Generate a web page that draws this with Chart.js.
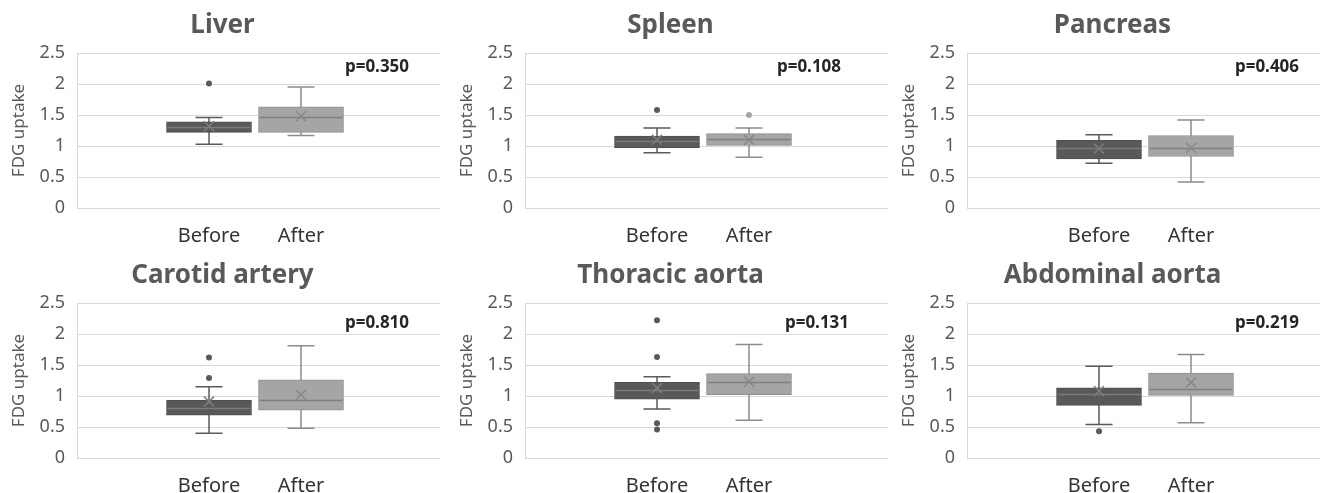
<!DOCTYPE html>
<html>
<head>
<meta charset="utf-8">
<script src="https://cdn.jsdelivr.net/npm/chart.js@4/dist/chart.umd.min.js"></script>
<style>
  html, body { margin: 0; padding: 0; background: #ffffff; }
  #wrap { position: relative; width: 1320px; height: 493px; overflow: hidden; background: #ffffff; }
  canvas { position: absolute; }
</style>
</head>
<body>
<div id="wrap"></div>
<script>
// ---------------- data ----------------
const panelTitles = ['Liver', 'Spleen', 'Pancreas', 'Carotid artery', 'Thoracic aorta', 'Abdominal aorta'];
const groups = ['Before', 'After'];
const pValues = ['p=0.350', 'p=0.108', 'p=0.406', 'p=0.810', 'p=0.131', 'p=0.219'];
const yTicks = [0, 0.5, 1, 1.5, 2, 2.5];
const yAxisTitle = 'FDG uptake';

const beforeMin    = [1.03, 0.89, 0.72, 0.40, 0.79, 0.54];
const beforeQ1     = [1.22, 0.97, 0.79, 0.69, 0.95, 0.85];
const beforeMedian = [1.31, 1.08, 0.97, 0.81, 1.09, 1.04];
const beforeQ3     = [1.39, 1.16, 1.09, 0.93, 1.22, 1.13];
const beforeMax    = [1.46, 1.29, 1.18, 1.15, 1.31, 1.48];
const beforeMean   = [1.32, 1.10, 0.96, 0.91, 1.13, 1.08];
const beforeOutliers = [[2.01], [1.58], [], [1.62, 1.29], [2.22, 1.63, 0.56, 0.46], [0.43]];

const afterMin    = [1.17, 0.82, 0.42, 0.48, 0.61, 0.57];
const afterQ1     = [1.22, 1.01, 0.83, 0.77, 1.02, 1.01];
const afterMedian = [1.47, 1.11, 0.96, 0.93, 1.23, 1.11];
const afterQ3     = [1.63, 1.20, 1.17, 1.26, 1.36, 1.37];
const afterMax    = [1.95, 1.29, 1.42, 1.81, 1.83, 1.67];
const afterMean   = [1.48, 1.10, 0.97, 1.02, 1.23, 1.22];
const afterOutliers = [[], [1.50], [], [], [], []];

// ---------------- layout / style ----------------
const FONT = "'Noto Sans', 'Open Sans', sans-serif";
const plotLefts = [77, 525, 967];
const rowTops = [0, 250];
const pLabelPos = [[300, 14], [284, 14], [300, 14], [300, 20], [292, 20], [300, 20]];
const boxFill = ['#595959', '#a5a5a5'];
const boxBorder = ['#4f4f4f', '#8f8f8f'];
const medianColor = ['#7a7a7a', '#7f7f7f'];
const meanColor = ['#7d7d7d', '#878787'];
const whiskerColor = ['#5a5a5a', '#8c8c8c'];
const outlierColor = ['#595959', '#a5a5a5'];

const boxPlugin = {
  id: 'boxWhisker',
  beforeDatasetsDraw(chart, args, opts) {
    const { ctx, scales: { x, y } } = chart;
    opts.stats.forEach((s, i) => {
      const cx = x.getPixelForValue(i);
      const yMin = y.getPixelForValue(s.min);
      const yMax = y.getPixelForValue(s.max);
      const half = opts.capWidth / 2;
      ctx.save();
      ctx.strokeStyle = whiskerColor[i];
      ctx.lineWidth = 1.5;
      ctx.beginPath();
      ctx.moveTo(cx, yMin); ctx.lineTo(cx, yMax);
      ctx.moveTo(cx - half, yMin); ctx.lineTo(cx + half, yMin);
      ctx.moveTo(cx - half, yMax); ctx.lineTo(cx + half, yMax);
      ctx.stroke();
      ctx.restore();
    });
  },
  afterDatasetDraw(chart, args, opts) {
    if (args.meta.type !== 'bar') return;
    const { ctx, scales: { x, y } } = chart;
    opts.stats.forEach((s, i) => {
      const el = args.meta.data[i];
      const w = el.width;
      const cx = x.getPixelForValue(i);
      const ym = Math.round(y.getPixelForValue(s.median)) + 0.5;
      ctx.save();
      ctx.strokeStyle = medianColor[i];
      ctx.lineWidth = 1.5;
      ctx.beginPath();
      ctx.moveTo(cx - w / 2 + 1, ym); ctx.lineTo(cx + w / 2 - 1, ym);
      ctx.stroke();
      ctx.restore();
    });
  },
  afterDraw(chart, args, opts) {
    const { ctx, chartArea } = chart;
    ctx.save();
    ctx.font = 'bold 17px ' + FONT;
    ctx.fillStyle = '#262626';
    ctx.textAlign = 'center';
    ctx.textBaseline = 'middle';
    ctx.fillText(opts.pText, chartArea.left + opts.pPos[0], chartArea.top + opts.pPos[1]);
    ctx.restore();
  }
};

const wrap = document.getElementById('wrap');

panelTitles.forEach((title, k) => {
  const col = k % 3, row = Math.floor(k / 3);
  const canvas = document.createElement('canvas');
  canvas.width = 452; canvas.height = 250;
  canvas.style.width = '452px'; canvas.style.height = '250px';
  canvas.style.left = (plotLefts[col] - 80) + 'px';
  canvas.style.top = rowTops[row] + 'px';
  wrap.appendChild(canvas);

  const stats = [
    { min: beforeMin[k], q1: beforeQ1[k], median: beforeMedian[k], q3: beforeQ3[k], max: beforeMax[k] },
    { min: afterMin[k], q1: afterQ1[k], median: afterMedian[k], q3: afterQ3[k], max: afterMax[k] }
  ];

  new Chart(canvas, {
    type: 'bar',
    data: {
      datasets: [
        {
          label: 'box',
          type: 'bar',
          order: 3,
          data: stats.map((s, i) => ({ x: i, y: [s.q1, s.q3] })),
          backgroundColor: boxFill,
          borderColor: boxBorder,
          borderWidth: 1,
          borderSkipped: false,
          barThickness: 85
        },
        {
          label: 'outliers before',
          type: 'scatter',
          order: 2,
          data: beforeOutliers[k].map(v => ({ x: 0, y: v })),
          pointStyle: 'circle',
          pointRadius: 3,
          backgroundColor: outlierColor[0],
          borderColor: outlierColor[0],
          borderWidth: 0
        },
        {
          label: 'outliers after',
          type: 'scatter',
          order: 2,
          data: afterOutliers[k].map(v => ({ x: 1, y: v })),
          pointStyle: 'circle',
          pointRadius: 3,
          backgroundColor: outlierColor[1],
          borderColor: outlierColor[1],
          borderWidth: 0
        },
        {
          label: 'mean',
          type: 'scatter',
          order: 1,
          data: [{ x: 0, y: beforeMean[k] }, { x: 1, y: afterMean[k] }],
          pointStyle: 'crossRot',
          pointRadius: 7,
          borderColor: meanColor,
          backgroundColor: meanColor,
          borderWidth: 1.5
        }
      ]
    },
    options: {
      responsive: false,
      animation: false,
      events: [],
      layout: { padding: { left: 8, right: 9, top: 0, bottom: 0 } },
      plugins: {
        legend: { display: false },
        tooltip: { enabled: false },
        title: {
          display: true,
          text: title,
          color: '#595959',
          font: { family: FONT, size: 26, weight: 'bold', lineHeight: 1.2 },
          padding: { top: 10, bottom: 11.8 }
        },
        boxWhisker: { stats: stats, capWidth: 27, pText: pValues[k], pPos: pLabelPos[k] }
      },
      scales: {
        x: {
          type: 'linear',
          offset: false,
          min: -1.435,
          max: 2.511,
          afterBuildTicks: s => { s.ticks = groups.map((g, i) => ({ value: i })); },
          afterFit: s => { s.height = 42; },
          grid: { display: false, drawTicks: false, offset: false },
          border: { display: false },
          ticks: {
            autoSkip: false,
            maxRotation: 0,
            padding: 16,
            color: '#333333',
            font: { family: FONT, size: 20, lineHeight: 1.2 },
            callback: v => groups[v] !== undefined ? groups[v] : ''
          }
        },
        y: {
          type: 'linear',
          min: 0,
          max: 2.5,
          afterBuildTicks: s => { s.ticks = yTicks.map(v => ({ value: v })); },
          afterFit: s => { s.width = 72; },
          grid: { color: '#d9d9d9', lineWidth: 1, drawTicks: false },
          border: { display: true, color: '#d9d9d9', width: 1 },
          ticks: {
            padding: 12,
            color: '#595959',
            font: { family: FONT, size: 18 },
            callback: v => String(v)
          },
          title: {
            display: true,
            text: yAxisTitle,
            color: '#595959',
            font: { family: FONT, size: 17, lineHeight: 1.2 },
            padding: { top: 4, bottom: 0 }
          }
        }
      }
    },
    plugins: [boxPlugin]
  });
});
</script>
</body>
</html>
